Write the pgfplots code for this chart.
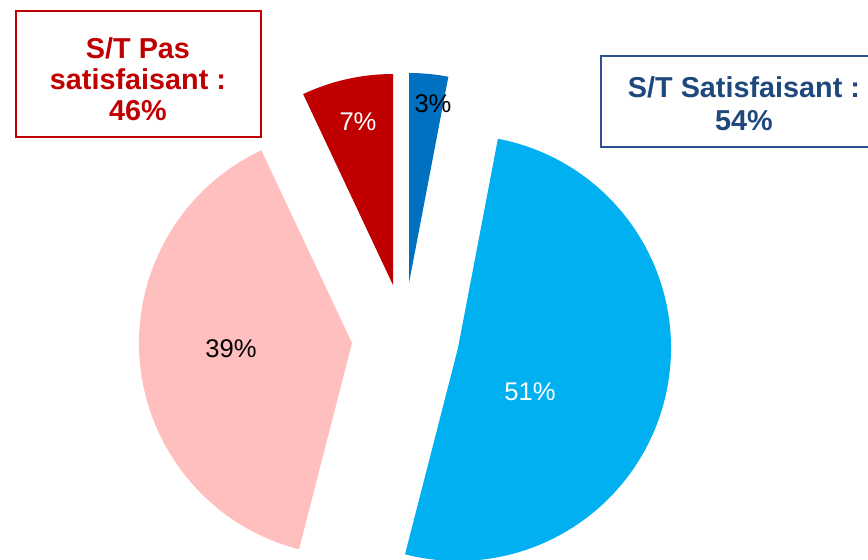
\documentclass[border=0pt]{standalone}
\usepackage{pgfplots}
\pgfplotsset{compat=1.18}
\usepackage{fontspec}
\setmainfont{Liberation Sans}
\definecolor{cDark}{HTML}{0070C0}
\definecolor{cLight}{HTML}{00B0F0}
\definecolor{cPink}{HTML}{FFBFBF}
\definecolor{cRed}{HTML}{C00000}
\definecolor{cNavy}{HTML}{1F497D}
\definecolor{cNavyB}{HTML}{2F528F}
% #1 cx, #2 cy (pixels), #3 radius (pixels), #4 cumulative share before slice (%), #5 share (%), #6 colour
\newcommand{\slice}[6]{%
  \fill[#6] (axis cs:#1,#2) -- ++({90-3.6*#4}:{#3*0.5pt})
    arc[start angle={90-3.6*#4}, end angle={90-3.6*(#4+#5)}, radius={#3*0.5pt}] -- cycle;}
\begin{document}
\begin{tikzpicture}
\useasboundingbox (0,0) rectangle (434pt,279.5pt);
\begin{axis}[x=0.5pt, y=0.5pt, xmin=0, xmax=868, ymin=0, ymax=559,
  y dir=reverse, hide axis, clip=false]
% slices: value 3, 51, 39, 7 (%)
\slice{409}{283}{210}{0}{3}{cDark}
\slice{458}{348}{213}{3}{51}{cLight}
\slice{352}{343}{213}{54}{39}{cPink}
\slice{393}{285}{211}{93}{7}{cRed}
\node[font=\fontsize{12.8}{15}\selectfont, text=black] at (axis cs:433,104) {3\%};
\node[font=\fontsize{12.8}{15}\selectfont, text=white] at (axis cs:358,122) {7\%};
\node[font=\fontsize{12.8}{15}\selectfont, text=black] at (axis cs:231,349) {39\%};
\node[font=\fontsize{12.8}{15}\selectfont, text=white] at (axis cs:530,392) {51\%};
% boxes
\draw[cRed, line width=1pt] (axis cs:16,11) rectangle (axis cs:261,137);
\node[align=center, text=cRed, font=\bfseries\fontsize{14.4}{15.5}\selectfont] at (axis cs:138,79)
  {S/T Pas\\satisfaisant :\\46\%};
\draw[cNavyB, line width=1pt] (axis cs:870,56) -- (axis cs:601,56) -- (axis cs:601,147) -- (axis cs:870,147);
\node[align=center, text=cNavy, font=\bfseries\fontsize{14.4}{16.5}\selectfont] at (axis cs:744,104)
  {S/T Satisfaisant :\\54\%};
\end{axis}
\end{tikzpicture}
\end{document}
